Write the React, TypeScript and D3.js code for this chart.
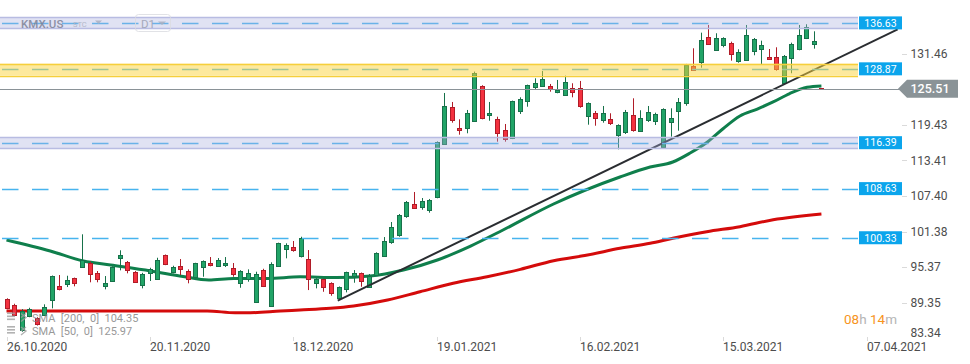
import React, { useEffect, useRef } from "react";
import * as d3 from "d3";

// daily candles, [open, high, low, close]
const candles: [number, number, number, number][] = [
	[89.97, 90.1, 88.25, 88.4], [88.96, 89.18, 87.15, 87.27], [84.85, 88.28, 84.45, 88.0],
	[87.1, 88.5, 86.9, 88.28], [86.71, 86.9, 85.5, 85.7], [87.27, 89.08, 87.1, 88.67],
	[89.75, 93.95, 88.4, 93.81], [92.12, 94.03, 91.44, 91.66], [92.51, 93.91, 92.0, 93.18],
	[93.47, 93.6, 92.12, 92.56], [95.43, 100.91, 95.3, 96.61], [96.11, 96.3, 92.8, 94.32],
	[94.32, 94.71, 92.8, 93.3], [92.05, 93.86, 91.61, 92.63], [93.02, 95.5, 92.9, 95.38],
	[96.85, 98.21, 94.82, 97.41], [96.28, 96.4, 94.32, 95.0], [94.54, 94.7, 92.7, 92.9],
	[92.46, 94.4, 91.78, 94.25], [94.32, 95.26, 93.02, 95.04], [93.35, 96.95, 93.2, 96.56],
	[97.36, 97.5, 95.7, 95.89], [94.59, 95.6, 94.32, 95.43], [95.55, 96.73, 94.03, 95.09],
	[94.71, 94.99, 92.63, 93.3], [93.64, 96.1, 93.5, 96.0], [95.33, 96.5, 93.74, 96.34],
	[96.0, 97.07, 95.5, 95.6], [95.5, 96.9, 95.4, 96.51], [95.67, 97.07, 95.38, 96.06],
	[95.16, 96.06, 93.74, 94.15], [92.63, 94.85, 91.88, 94.71], [93.35, 94.99, 92.9, 94.32],
	[89.42, 94.59, 89.3, 94.2], [94.87, 95.09, 92.0, 92.12], [88.79, 96.18, 88.65, 95.84],
	[95.5, 99.5, 95.4, 99.39], [98.31, 99.39, 96.85, 99.05], [98.76, 99.78, 97.97, 98.31],
	[97.19, 100.5, 97.0, 100.23], [96.68, 98.25, 91.49, 93.3], [92.63, 93.5, 91.78, 93.3],
	[93.3, 93.4, 91.2, 91.95], [92.63, 92.8, 90.53, 90.94], [90.09, 92.1, 89.8, 91.95],
	[91.61, 94.6, 91.1, 94.49], [93.86, 94.87, 92.73, 94.32], [94.32, 94.45, 92.05, 93.02],
	[92.05, 94.2, 91.9, 93.86], [94.03, 97.87, 93.9, 97.7], [97.36, 100.45, 97.2, 99.83],
	[99.49, 102.99, 99.3, 102.09], [100.67, 104.34, 100.5, 104.12], [103.88, 106.54, 103.7, 106.32],
	[106.03, 108.06, 105.3, 105.4], [105.47, 107.04, 105.06, 106.49], [104.9, 106.88, 104.56, 106.66],
	[107.16, 116.6, 107.0, 116.46], [116.12, 124.79, 116.0, 122.54], [122.37, 123.27, 119.77, 120.1],
	[118.82, 120.34, 117.74, 118.42], [118.82, 121.92, 117.98, 121.36], [120.17, 128.4, 120.0, 128.22],
	[125.92, 126.1, 120.34, 120.44], [121.02, 123.27, 120.1, 121.36], [120.34, 120.78, 116.56, 117.98],
	[118.54, 119.55, 116.56, 116.97], [117.13, 123.5, 117.0, 123.38], [121.79, 124.06, 121.24, 123.77],
	[123.32, 126.2, 122.47, 126.09], [125.68, 127.27, 125.47, 126.43], [125.97, 128.5, 125.8, 127.1],
	[125.97, 126.31, 125.01, 125.51], [125.01, 126.99, 124.74, 125.3], [124.4, 127.71, 124.3, 126.6],
	[125.58, 126.43, 124.06, 124.84], [125.58, 126.82, 122.3, 122.47], [120.78, 123.2, 119.43, 123.05],
	[121.36, 121.75, 119.26, 120.51], [120.1, 122.59, 119.77, 121.36], [120.34, 121.36, 119.38, 119.67],
	[117.64, 119.5, 115.27, 119.33], [118.08, 121.92, 117.86, 121.53], [121.02, 123.89, 118.25, 118.42],
	[118.32, 121.87, 118.2, 120.51], [120.1, 122.59, 119.89, 121.53], [120.1, 121.46, 119.38, 121.24],
	[115.66, 122.2, 115.5, 122.03], [119.94, 122.2, 117.4, 120.56], [121.63, 123.94, 118.42, 123.22],
	[123.05, 129.7, 122.64, 129.52], [129.35, 132.34, 128.5, 128.62], [129.98, 134.98, 129.06, 133.69],
	[134.2, 136.28, 132.9, 133.02], [132.0, 134.88, 131.9, 134.03], [132.85, 134.2, 132.51, 134.03],
	[133.19, 133.46, 130.25, 131.33], [130.08, 132.17, 129.9, 131.67], [130.31, 136.28, 130.2, 134.54],
	[131.89, 134.08, 131.16, 133.86], [132.17, 133.63, 129.69, 132.85], [130.82, 132.22, 130.36, 130.48],
	[130.82, 132.51, 128.56, 128.79], [126.53, 131.2, 126.31, 131.04], [130.75, 133.29, 128.12, 133.07],
	[132.17, 136.28, 132.0, 134.59], [134.03, 136.4, 133.9, 135.89], [133.02, 135.21, 132.28, 133.53],
	[125.6, 125.62, 125.49, 125.51],
];

const sma50Idx = [0, 5.8, 10.2, 13.8, 19.1, 23.4, 26.8, 30.1, 34.6, 38.9, 43.7, 48.2, 52.6, 57.1, 61.5, 65.8, 72.5, 81.3, 85.3, 88.3, 90.6, 92.9, 95.0, 97.2, 99.5, 101.6, 103.8, 106.1, 108];
const sma50Val = [99.95, 98.09, 96.4, 95.72, 94.71, 93.78, 93.18, 93.44, 93.44, 93.72, 93.6, 93.86, 94.87, 96.57, 98.93, 101.64, 106.03, 110.59, 112.28, 113.13, 114.65, 116.51, 118.79, 120.9, 122.08, 123.27, 124.7, 125.75, 125.97];

const sma200Idx = [0, 12.5, 26.6, 30.3, 32.3, 36.3, 38.9, 42.9, 46, 50.5, 54.8, 59.2, 63.7, 68.1, 72.5, 77, 81.3, 85.3, 88.3, 92.8, 97.2, 101.6, 108];
const sma200Val = [87.95, 87.95, 87.95, 87.66, 87.66, 87.95, 88.12, 88.4, 88.79, 89.8, 91.2, 92.63, 93.74, 94.99, 96.45, 97.41, 98.54, 99.39, 100.23, 101.35, 102.2, 103.37, 104.35];

const trendIdx = [43.9, 118.1];
const trendVal = [89.72, 135.55];

const zones: [number, number][] = [[135.7, 137.56], [127.74, 129.72], [115.44, 117.3]];
const zoneKinds = ["blue", "yellow", "blue"];
const levels = [136.63, 128.87, 116.39, 108.63, 100.33];
const lastPrice = 125.51;

const yTicks = [131.46, 119.43, 113.41, 107.4, 101.38, 95.37, 89.35, 83.34];
const xTickIdx = [0, 19, 38, 57, 76, 95, 114];
const xTickLabels = ["26.10.2020", "20.11.2020", "18.12.2020", "19.01.2021", "16.02.2021", "15.03.2021", "07.04.2021"];

const legendRows = ["SMA  [200,  0]  104.35", "SMA  [50,  0]  125.97"];

const App: React.FC = () => {
	const svgRef = useRef<SVGSVGElement>(null);

	useEffect(() => {
		document.body.style.margin = "0";
		if (!svgRef.current) return;
		const svg = d3.select(svgRef.current);
		svg.selectAll("*").remove();

		const x = d3.scaleLinear().domain([0, 114]).range([6.5, 866.7]);
		const y = d3.scaleLinear().domain([83.34, 131.46]).range([338.3, 53.5]);
		const px = (i: number) => Math.round(x(i));
		const py = (v: number) => Math.round(y(v)) + 0.5;

		svg.append("rect").attr("width", 970).attr("height", 364).attr("fill", "#fff");

		// moving averages
		const line = d3
			.line<[number, number]>()
			.x((d) => x(d[0]))
			.y((d) => y(d[1]))
			.curve(d3.curveMonotoneX);

		svg.append("path")
			.datum(sma200Idx.map((d, i) => [d, sma200Val[i]] as [number, number]))
			.attr("d", line)
			.attr("fill", "none")
			.attr("stroke", "#d40b0b")
			.attr("stroke-width", 3);

		svg.append("path")
			.datum(sma50Idx.map((d, i) => [d, sma50Val[i]] as [number, number]))
			.attr("d", line)
			.attr("fill", "none")
			.attr("stroke", "#0f7f4c")
			.attr("stroke-width", 3);

		// candles
		const cg = svg.append("g");
		const c = cg.selectAll("g").data(candles).join("g");
		c.append("line")
			.attr("x1", (d, i) => px(i) + 0.5)
			.attr("x2", (d, i) => px(i) + 0.5)
			.attr("y1", (d) => y(d[1]))
			.attr("y2", (d) => y(d[2]))
			.attr("stroke", (d) => (d[3] >= d[0] ? "#17714a" : "#b01c28"))
			.attr("stroke-width", 1);
		c.append("rect")
			.attr("x", (d, i) => px(i) - 1.5)
			.attr("y", (d) => Math.round(y(Math.max(d[0], d[3]))) + 0.5)
			.attr("width", 4)
			.attr("height", (d) => Math.max(1, Math.round(Math.abs(y(d[0]) - y(d[3])))))
			.attr("fill", (d) => (d[3] >= d[0] ? "#21a467" : "#f3313f"))
			.attr("stroke", (d) => (d[3] >= d[0] ? "#17714a" : "#b01c28"))
			.attr("stroke-width", 1);

		// trendline
		svg.append("line")
			.attr("x1", x(trendIdx[0]))
			.attr("y1", y(trendVal[0]))
			.attr("x2", x(trendIdx[1]))
			.attr("y2", y(trendVal[1]))
			.attr("stroke", "#2a2d31")
			.attr("stroke-width", 2);

		// levels
		svg.append("g")
			.selectAll("line")
			.data(levels)
			.join("line")
			.attr("x1", 2)
			.attr("x2", 858)
			.attr("y1", (d) => py(d))
			.attr("y2", (d) => py(d))
			.attr("stroke", "#47b4ee")
			.attr("stroke-width", 1.3)
			.attr("stroke-dasharray", "16.5 13.5");

		svg.append("line")
			.attr("x1", 0)
			.attr("x2", 900)
			.attr("y1", py(lastPrice))
			.attr("y2", py(lastPrice))
			.attr("stroke", "#8a9297")
			.attr("stroke-width", 1);

		// zones on top
		const zg = svg.append("g").selectAll("g").data(zones).join("g");
		zg.append("rect")
			.attr("x", 0)
			.attr("width", 858)
			.attr("y", (d) => y(d[1]))
			.attr("height", (d) => y(d[0]) - y(d[1]))
			.attr("fill", (d, i) => (zoneKinds[i] === "yellow" ? "rgba(251,212,60,0.5)" : "rgba(170,176,222,0.36)"));
		[0, 1].forEach((k) => {
			zg.append("line")
				.attr("x1", 0)
				.attr("x2", 858)
				.attr("y1", (d) => py(d[k]))
				.attr("y2", (d) => py(d[k]))
				.attr("stroke", (d, i) => (zoneKinds[i] === "yellow" ? "#f6cf3b" : "#b8bce2"))
				.attr("stroke-width", 1.3);
		});

		// level labels
		const lg = svg.append("g").selectAll("g").data(levels).join("g");
		lg.append("rect")
			.attr("x", 859)
			.attr("y", (d) => y(d) - 6.5)
			.attr("width", 43)
			.attr("height", 13)
			.attr("fill", "#0ba5ec");
		lg.append("text")
			.attr("x", 880.5)
			.attr("y", (d) => y(d) + 3.8)
			.attr("text-anchor", "middle")
			.attr("font-size", 10.5)
			.attr("fill", "#fff")
			.text((d) => d.toFixed(2));

		// y axis
		const yg = svg.append("g").attr("font-size", 12).attr("fill", "#4d4d4d");
		yTicks.forEach((t) => {
			const yy = y(t);
			const clamped = Math.min(yy, 333);
			if (yy === clamped) {
				yg.append("line")
					.attr("x1", 902)
					.attr("x2", 907)
					.attr("y1", py(t))
					.attr("y2", py(t))
					.attr("stroke", "#dadada");
			}
			yg.append("text")
				.attr("x", 910.5)
				.attr("y", clamped + 4.3)
				.text(t.toFixed(2));
		});

		// last price tag
		const ly = y(lastPrice);
		svg.append("path")
			.attr("d", `M898,${ly} L907,${ly - 9} L958,${ly - 9} L958,${ly + 9} L907,${ly + 9} Z`)
			.attr("fill", "#8a9397");
		svg.append("text")
			.attr("x", 910.5)
			.attr("y", ly + 4.4)
			.attr("font-size", 12.5)
			.attr("font-weight", 500)
			.attr("fill", "#fff")
			.text(lastPrice.toFixed(2));

		// x axis
		const xg = svg.append("g").attr("font-size", 12).attr("fill", "#4d4d4d");
		xTickIdx.forEach((t, i) => {
			xg.append("line")
				.attr("x1", px(t) + 0.5)
				.attr("x2", px(t) + 0.5)
				.attr("y1", 337)
				.attr("y2", 341)
				.attr("stroke", "#dadada");
			xg.append("text")
				.attr("x", px(t))
				.attr("y", 351)
				.text(xTickLabels[i]);
		});

		// header
		const hg = svg.append("g").attr("opacity", 0.85);
		hg.append("text").attr("x", 21).attr("y", 27.5).attr("font-size", 11.5).attr("font-weight", 500).attr("fill", "#7e8397").text("KMX.US");
		hg.append("text").attr("x", 73).attr("y", 27).attr("font-size", 7.5).attr("fill", "#aab0c2").text("STC");
		hg.append("path").attr("d", "M95,20.5 L102,20.5 L98.5,24 Z").attr("fill", "#aab0c2");
		hg.append("rect").attr("x", 135.5).attr("y", 14.5).attr("width", 35).attr("height", 17).attr("rx", 3).attr("fill", "none").attr("stroke", "#dcdde2");
		hg.append("text").attr("x", 141).attr("y", 27.5).attr("font-size", 11.5).attr("fill", "#9ba0b2").text("D1");
		hg.append("path").attr("d", "M158,21.5 L166,21.5 L162,25 Z").attr("fill", "#aab0c2");

		// legend
		const leg = svg.append("g").attr("opacity", 0.8);
		legendRows.forEach((r, i) => {
			const by = 321.5 + i * 13.5;
			[0, 3, 6].forEach((o) => {
				leg.append("rect").attr("x", 7).attr("y", by - 9 + o).attr("width", 8).attr("height", 1.6).attr("fill", "#a0a0a0");
			});
			leg.append("path")
				.attr("d", `M21,${by - 8} L26,${by - 4} L21,${by} M26,${by - 8} L21,${by - 4}`)
				.attr("stroke", "#a0a0a0")
				.attr("stroke-width", 1.4)
				.attr("fill", "none");
			leg.append("text").attr("x", 32).attr("y", by).attr("font-size", 11).attr("fill", "#7f7f7f").attr("xml:space", "preserve").text(r);
		});

		// countdown
		const cd = svg.append("text").attr("x", 844).attr("y", 324).attr("font-size", 13.5);
		cd.append("tspan").attr("fill", "#f7941d").text("08");
		cd.append("tspan").attr("fill", "#b5b5b5").text("h ");
		cd.append("tspan").attr("fill", "#f7941d").text("14");
		cd.append("tspan").attr("fill", "#b5b5b5").text("m");
	}, []);

	return (
		<svg
			ref={svgRef}
			width={970}
			height={364}
			style={{ display: "block", fontFamily: "Roboto, sans-serif" }}
		/>
	);
};

export default App;
